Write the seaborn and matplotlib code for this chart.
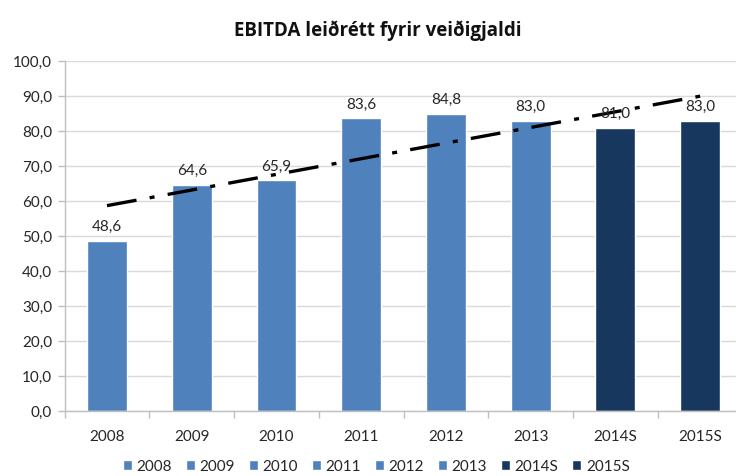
import matplotlib
matplotlib.use("Agg")
import matplotlib.pyplot as plt
import numpy as np
import pandas as pd
import seaborn as sns
from matplotlib.ticker import FixedLocator, FuncFormatter

ar = ["2008", "2009", "2010", "2011", "2012", "2013", "2014S", "2015S"]
ebitda = [48.6, 64.6, 65.9, 83.6, 84.8, 83.0, 81.0, 83.0]
litir = ["#4F81BD"] * 6 + ["#17375E"] * 2
titill = "EBITDA leiðrétt fyrir veiðigjaldi"

sns.set_theme(style="white")
plt.rcParams["font.family"] = ["Lato", "DejaVu Sans"]

df = pd.DataFrame({"ar": ar, "ebitda": ebitda})

fig = plt.figure(figsize=(7.36, 4.76), dpi=100)
ax = fig.add_axes([0.0878, 0.1366, 0.921, 0.7352])

sns.barplot(data=df, x="ar", y="ebitda", hue="ar", order=ar, hue_order=ar,
            palette=dict(zip(ar, litir)), width=0.47, saturation=1,
            legend=True, ax=ax)

# leitnilína
x = np.arange(len(ar))
k, m = np.polyfit(x, ebitda, 1)
ax.plot(x, k * x + m, color="black", lw=2.4, dashes=(9, 4, 1.5, 4), zorder=4)

for xi, v in zip(x, ebitda):
    ax.annotate(f"{v:.1f}".replace(".", ","), (xi, v), xytext=(0, 5),
                textcoords="offset points", ha="center", va="bottom",
                fontsize=11, color="#262626", zorder=5)

ax.set_xlim(-0.5, len(ar) - 0.5)
ax.set_ylim(0, 100)
ax.set_yticks(np.arange(0, 101, 10))
ax.yaxis.set_major_formatter(FuncFormatter(lambda v, p: f"{v:.1f}".replace(".", ",")))
ax.yaxis.grid(True, color="#D9D9D9", lw=1)
ax.set_axisbelow(True)
ax.set_xlabel("")
ax.set_ylabel("")
ax.tick_params(axis="y", left=True, length=5, width=1, color="#BFBFBF",
               labelsize=11, labelcolor="#262626", pad=4)
ax.tick_params(axis="x", bottom=False, labelsize=11, labelcolor="#262626", pad=8)
ax.xaxis.set_minor_locator(FixedLocator(np.arange(-0.5, len(ar), 1)))
ax.tick_params(axis="x", which="minor", bottom=True, length=5, width=1,
               color="#BFBFBF")
for s in ["top", "right"]:
    ax.spines[s].set_visible(False)
for s in ["left", "bottom"]:
    ax.spines[s].set_color("#BFBFBF")
    ax.spines[s].set_linewidth(1)

fig.text(0.513, 0.935, titill, ha="center", va="center", fontsize=13.5,
         fontweight="bold", color="#111111", family=["Open Sans", "DejaVu Sans"])

leg = ax.legend(loc="upper center", bbox_to_anchor=(0.46, -0.1), ncol=8,
                frameon=False, fontsize=11, handlelength=0.6, handleheight=0.6,
                handletextpad=0.3, columnspacing=0.9)

fig.savefig("out.png", dpi=100)
